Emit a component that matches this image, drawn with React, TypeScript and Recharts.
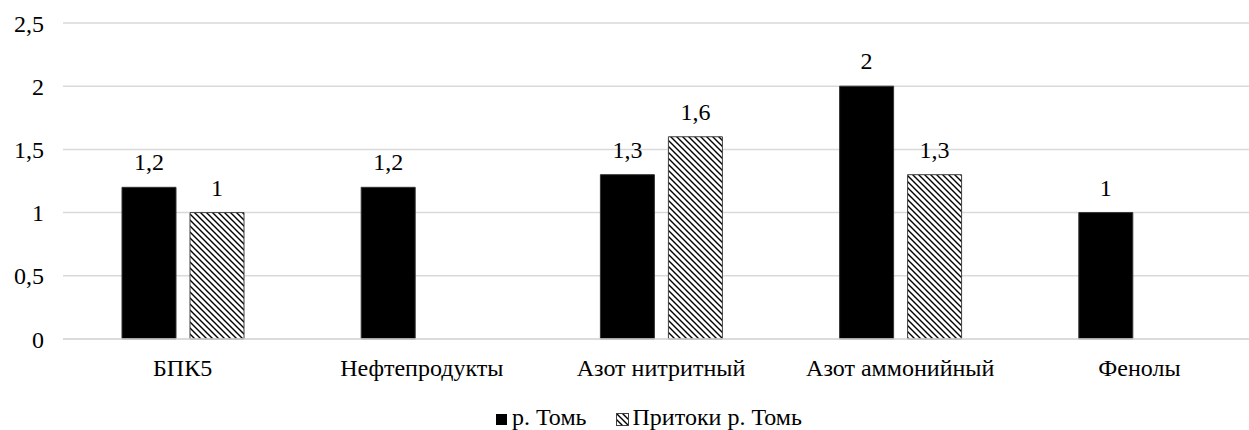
import { Bar, BarChart, CartesianGrid, LabelList, Legend, XAxis, YAxis } from "recharts";

const categories = ["БПК5", "Нефтепродукты", "Азот нитритный", "Азот аммонийный", "Фенолы"];
const tomValues = [1.2, 1.2, 1.3, 2, 1];
const tributaryValues: (number | null)[] = [1, null, 1.6, 1.3, null];
const yTicks = [0, 0.5, 1, 1.5, 2, 2.5];

const chartData = categories.map((name, i) => ({
  name,
  tom: tomValues[i],
  tributary: tributaryValues[i]
}));

const fontFamily = "Liberation Serif";
const textStyle = { fill: "#000", fontSize: 24, fontFamily };

function formatComma(value: unknown) {
  if (value === null || value === undefined || value === "") return "";
  return String(value).replace(".", ",");
}

function LegendContent() {
  return (
    <div
      style={{
        position: "relative",
        height: 41,
        fontFamily,
        fontSize: 24,
        color: "#000"
      }}
    >
      <div
        style={{
          position: "absolute",
          left: 496,
          top: 15,
          display: "flex",
          alignItems: "center",
          whiteSpace: "nowrap"
        }}
      >
        <svg width={11} height={11} style={{ marginRight: 5, marginTop: 4 }}>
          <rect x={0} y={0} width={11} height={11} fill="#000" />
        </svg>
        <span style={{ marginRight: 29 }}>р. Томь</span>
        <svg width={13} height={13} style={{ marginRight: 4, marginTop: 4 }}>
          <rect x={0.5} y={0.5} width={12} height={12} fill="url(#hatch)" stroke="#404040" />
        </svg>
        <span>Притоки р. Томь</span>
      </div>
    </div>
  );
}

export default function App() {
  return (
    <div style={{ position: "absolute", left: 0, top: 0, background: "#fff", fontFamily }}>
      <BarChart
        width={1249}
        height={430}
        data={chartData}
        margin={{ top: 23, right: -10, left: 0, bottom: 0 }}
        barSize={54}
        barGap={14}
      >
        <defs>
          <pattern id="hatch" width={6} height={6} patternUnits="userSpaceOnUse">
            <rect width={6} height={6} fill="#fff" />
            <path d="M0,0 L6,6 M-1,5 L1,7 M5,-1 L7,1" stroke="#000" strokeWidth={1.4} />
          </pattern>
        </defs>
        <CartesianGrid vertical={false} stroke="#d9d9d9" strokeWidth={1.5} />
        <XAxis
          dataKey="name"
          axisLine={{ stroke: "#d9d9d9", strokeWidth: 1.5 }}
          tickLine={false}
          tickSize={0}
          tickMargin={20}
          height={50}
          tick={textStyle}
        />
        <YAxis
          domain={[0, 2.5]}
          ticks={yTicks}
          axisLine={false}
          tickLine={false}
          tickSize={0}
          tickMargin={19}
          width={63}
          tickFormatter={formatComma}
          tick={textStyle}
        />
        <Legend verticalAlign="bottom" content={<LegendContent />} />
        <Bar dataKey="tom" name="р. Томь" fill="#000" stroke="#333" isAnimationActive={false}>
          <LabelList
            dataKey="tom"
            position="top"
            offset={17}
            formatter={formatComma}
            style={textStyle}
          />
        </Bar>
        <Bar
          dataKey="tributary"
          name="Притоки р. Томь"
          fill="url(#hatch)"
          stroke="#404040"
          isAnimationActive={false}
        >
          <LabelList
            dataKey="tributary"
            position="top"
            offset={17}
            formatter={formatComma}
            style={textStyle}
          />
        </Bar>
      </BarChart>
    </div>
  );
}
